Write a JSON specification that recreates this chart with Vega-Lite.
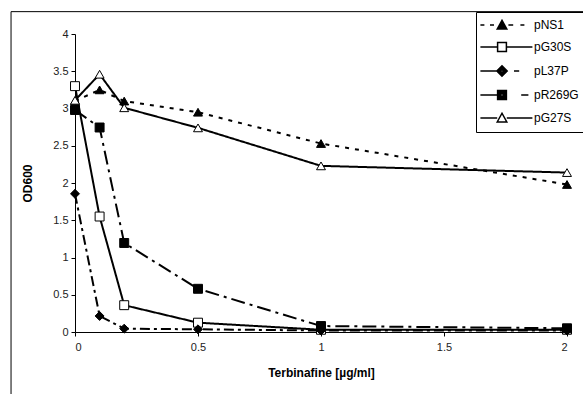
{
  "$schema": "https://vega.github.io/schema/vega-lite/v6.json",
  "width": 492,
  "height": 298,
  "autosize": {"type": "none"},
  "padding": {"left": 75, "top": 34, "right": 16, "bottom": 62},
  "background": "white",
  "config": {
    "view": {"stroke": null},
    "font": "Liberation Sans",
    "axis": {
      "grid": false,
      "labelFont": "Liberation Sans",
      "labelFontSize": 11,
      "labelColor": "#222",
      "tickColor": "black",
      "domainColor": "black",
      "tickSize": 4,
      "titleFont": "Liberation Sans",
      "titleFontSize": 12,
      "titleFontWeight": "bold",
      "titleColor": "black"
    }
  },
  "data": {
    "values": [
      {"x": 0, "od": 3.1, "series": "pNS1"},
      {"x": 0.1, "od": 3.25, "series": "pNS1"},
      {"x": 0.2, "od": 3.1, "series": "pNS1"},
      {"x": 0.5, "od": 2.95, "series": "pNS1"},
      {"x": 1, "od": 2.53, "series": "pNS1"},
      {"x": 2, "od": 1.98, "series": "pNS1"},
      {"x": 0, "od": 3.3, "series": "pG30S"},
      {"x": 0.1, "od": 1.55, "series": "pG30S"},
      {"x": 0.2, "od": 0.36, "series": "pG30S"},
      {"x": 0.5, "od": 0.125, "series": "pG30S"},
      {"x": 1, "od": 0.03, "series": "pG30S"},
      {"x": 2, "od": 0.03, "series": "pG30S"},
      {"x": 0, "od": 1.855, "series": "pL37P"},
      {"x": 0.1, "od": 0.215, "series": "pL37P"},
      {"x": 0.2, "od": 0.045, "series": "pL37P"},
      {"x": 0.5, "od": 0.036, "series": "pL37P"},
      {"x": 1, "od": 0.02, "series": "pL37P"},
      {"x": 2, "od": 0.02, "series": "pL37P"},
      {"x": 0, "od": 2.98, "series": "pR269G"},
      {"x": 0.1, "od": 2.745, "series": "pR269G"},
      {"x": 0.2, "od": 1.195, "series": "pR269G"},
      {"x": 0.5, "od": 0.58, "series": "pR269G"},
      {"x": 1, "od": 0.08, "series": "pR269G"},
      {"x": 2, "od": 0.05, "series": "pR269G"},
      {"x": 0, "od": 3.11, "series": "pG27S"},
      {"x": 0.1, "od": 3.46, "series": "pG27S"},
      {"x": 0.2, "od": 3.01, "series": "pG27S"},
      {"x": 0.5, "od": 2.74, "series": "pG27S"},
      {"x": 1, "od": 2.23, "series": "pG27S"},
      {"x": 2, "od": 2.14, "series": "pG27S"}
    ]
  },
  "layer": [
    {
      "mark": {"type": "line", "color": "black"},
      "encoding": {
        "x": {
          "field": "x", "type": "quantitative",
          "scale": {"domain": [0, 2], "nice": false},
          "axis": {"values": [0, 0.5, 1, 1.5, 2], "tickCount": 5, "format": "~g", "title": "Terbinafine [µg/ml]", "labelPadding": 5, "titlePadding": 15}
        },
        "y": {
          "field": "od", "type": "quantitative",
          "scale": {"domain": [0, 4], "nice": false},
          "axis": {"values": [0, 0.5, 1, 1.5, 2, 2.5, 3, 3.5, 4], "tickCount": 9, "format": "~g", "title": "OD600", "titlePadding": 18, "labelPadding": 3, "labelOverlap": false}
        },
        "detail": {"field": "series"},
        "strokeDash": {
          "field": "series", "type": "nominal",
          "scale": {"domain": ["pNS1", "pG30S", "pL37P", "pR269G", "pG27S"], "range": [[4, 6], [1, 0], [10, 4, 3, 4], [14, 5, 3, 5], [1, 0]]},
          "legend": null
        },
        "strokeWidth": {
          "field": "series", "type": "nominal",
          "scale": {"domain": ["pNS1", "pG30S", "pL37P", "pR269G", "pG27S"], "range": [2, 2, 2, 2, 1.5]},
          "legend": null
        }
      }
    },
    {
      "mark": {"type": "point", "filled": true, "stroke": "black", "strokeWidth": 1, "opacity": 1, "size": 80},
      "encoding": {
        "x": {"field": "x", "type": "quantitative"},
        "y": {"field": "od", "type": "quantitative"},
        "shape": {
          "field": "series", "type": "nominal",
          "scale": {"domain": ["pNS1", "pG30S", "pL37P", "pR269G", "pG27S"], "range": ["triangle-up", "square", "diamond", "square", "triangle-up"]},
          "legend": null
        },
        "fill": {
          "field": "series", "type": "nominal",
          "scale": {"domain": ["pNS1", "pG30S", "pL37P", "pR269G", "pG27S"], "range": ["black", "white", "black", "black", "white"]},
          "legend": null
        }
      }
    },
    {
      "mark": {"type": "point", "opacity": 0, "size": 64, "color": "black", "strokeWidth": 1.5},
      "encoding": {
        "x": {"field": "x", "type": "quantitative"},
        "y": {"field": "od", "type": "quantitative"},
        "shape": {
          "field": "series", "type": "nominal",
          "scale": {
            "domain": ["pNS1", "pG30S", "pL37P", "pR269G", "pG27S"],
            "range": [
              "M-2.15,0H-1.15M0.25,0H1.25M4.85,0H6.05M7.85,0H8.85M2.05,1L3.25,-1.2L4.45,1ZM2.45,0.76L3.25,-0.72L4.05,0.76ZM2.84,0.52L3.25,-0.23L3.66,0.52ZM3.1,0.3H3.4",
              "M-2.15,0H2.15M4.35,0H10.85M2.15,-1.1H4.35V1.1H2.15Z",
              "M-2.15,0H1.95M6.25,0H7.55M3.25,-1.3L4.55,0L3.25,1.3L1.95,0ZM3.25,-0.9L4.15,0L3.25,0.9L2.35,0ZM3.25,-0.5L3.75,0L3.25,0.5L2.75,0ZM3.1,0H3.4",
              "M-2.15,0H2.15M8.05,0H9.85M2.15,-1.1H4.35V1.1H2.15ZM2.5,-0.75H4V0.75H2.5ZM2.85,-0.4H3.65V0.4H2.85ZM3.1,0H3.4",
              "M-2.15,0H2.05M4.45,0H10.85M2.05,1L3.25,-1.2L4.45,1Z"
            ]
          },
          "legend": {
            "title": null,
            "orient": "none",
            "legendX": 401,
            "legendY": -22,
            "strokeColor": "black",
            "fillColor": "white",
            "padding": 7,
            "labelFont": "Liberation Sans",
            "labelFontSize": 12,
            "labelColor": "black",
            "labelOffset": 39,
            "rowPadding": 7,
            "symbolSize": 64,
            "symbolStrokeColor": "black",
            "symbolStrokeWidth": 1.5
          }
        }
      }
    },
    {
      "data": {"values": [{"frame": 1}]},
      "mark": {"type": "rect", "fill": null, "stroke": "black", "strokeWidth": 1, "clip": false},
      "encoding": {
        "x": {"datum": -0.26, "type": "quantitative", "axis": {"values": [0, 0.5, 1, 1.5, 2], "tickCount": 5, "format": "~g", "title": "Terbinafine [µg/ml]", "labelPadding": 5, "titlePadding": 15}},
        "x2": {"datum": 2.2},
        "y": {"datum": 4.3, "type": "quantitative", "axis": {"values": [0, 0.5, 1, 1.5, 2, 2.5, 3, 3.5, 4], "tickCount": 9, "format": "~g", "title": "OD600", "titlePadding": 18, "labelPadding": 3, "labelOverlap": false}},
        "y2": {"datum": -1.2}
      }
    }
  ],
  "resolve": {"scale": {"shape": "independent"}}
}
